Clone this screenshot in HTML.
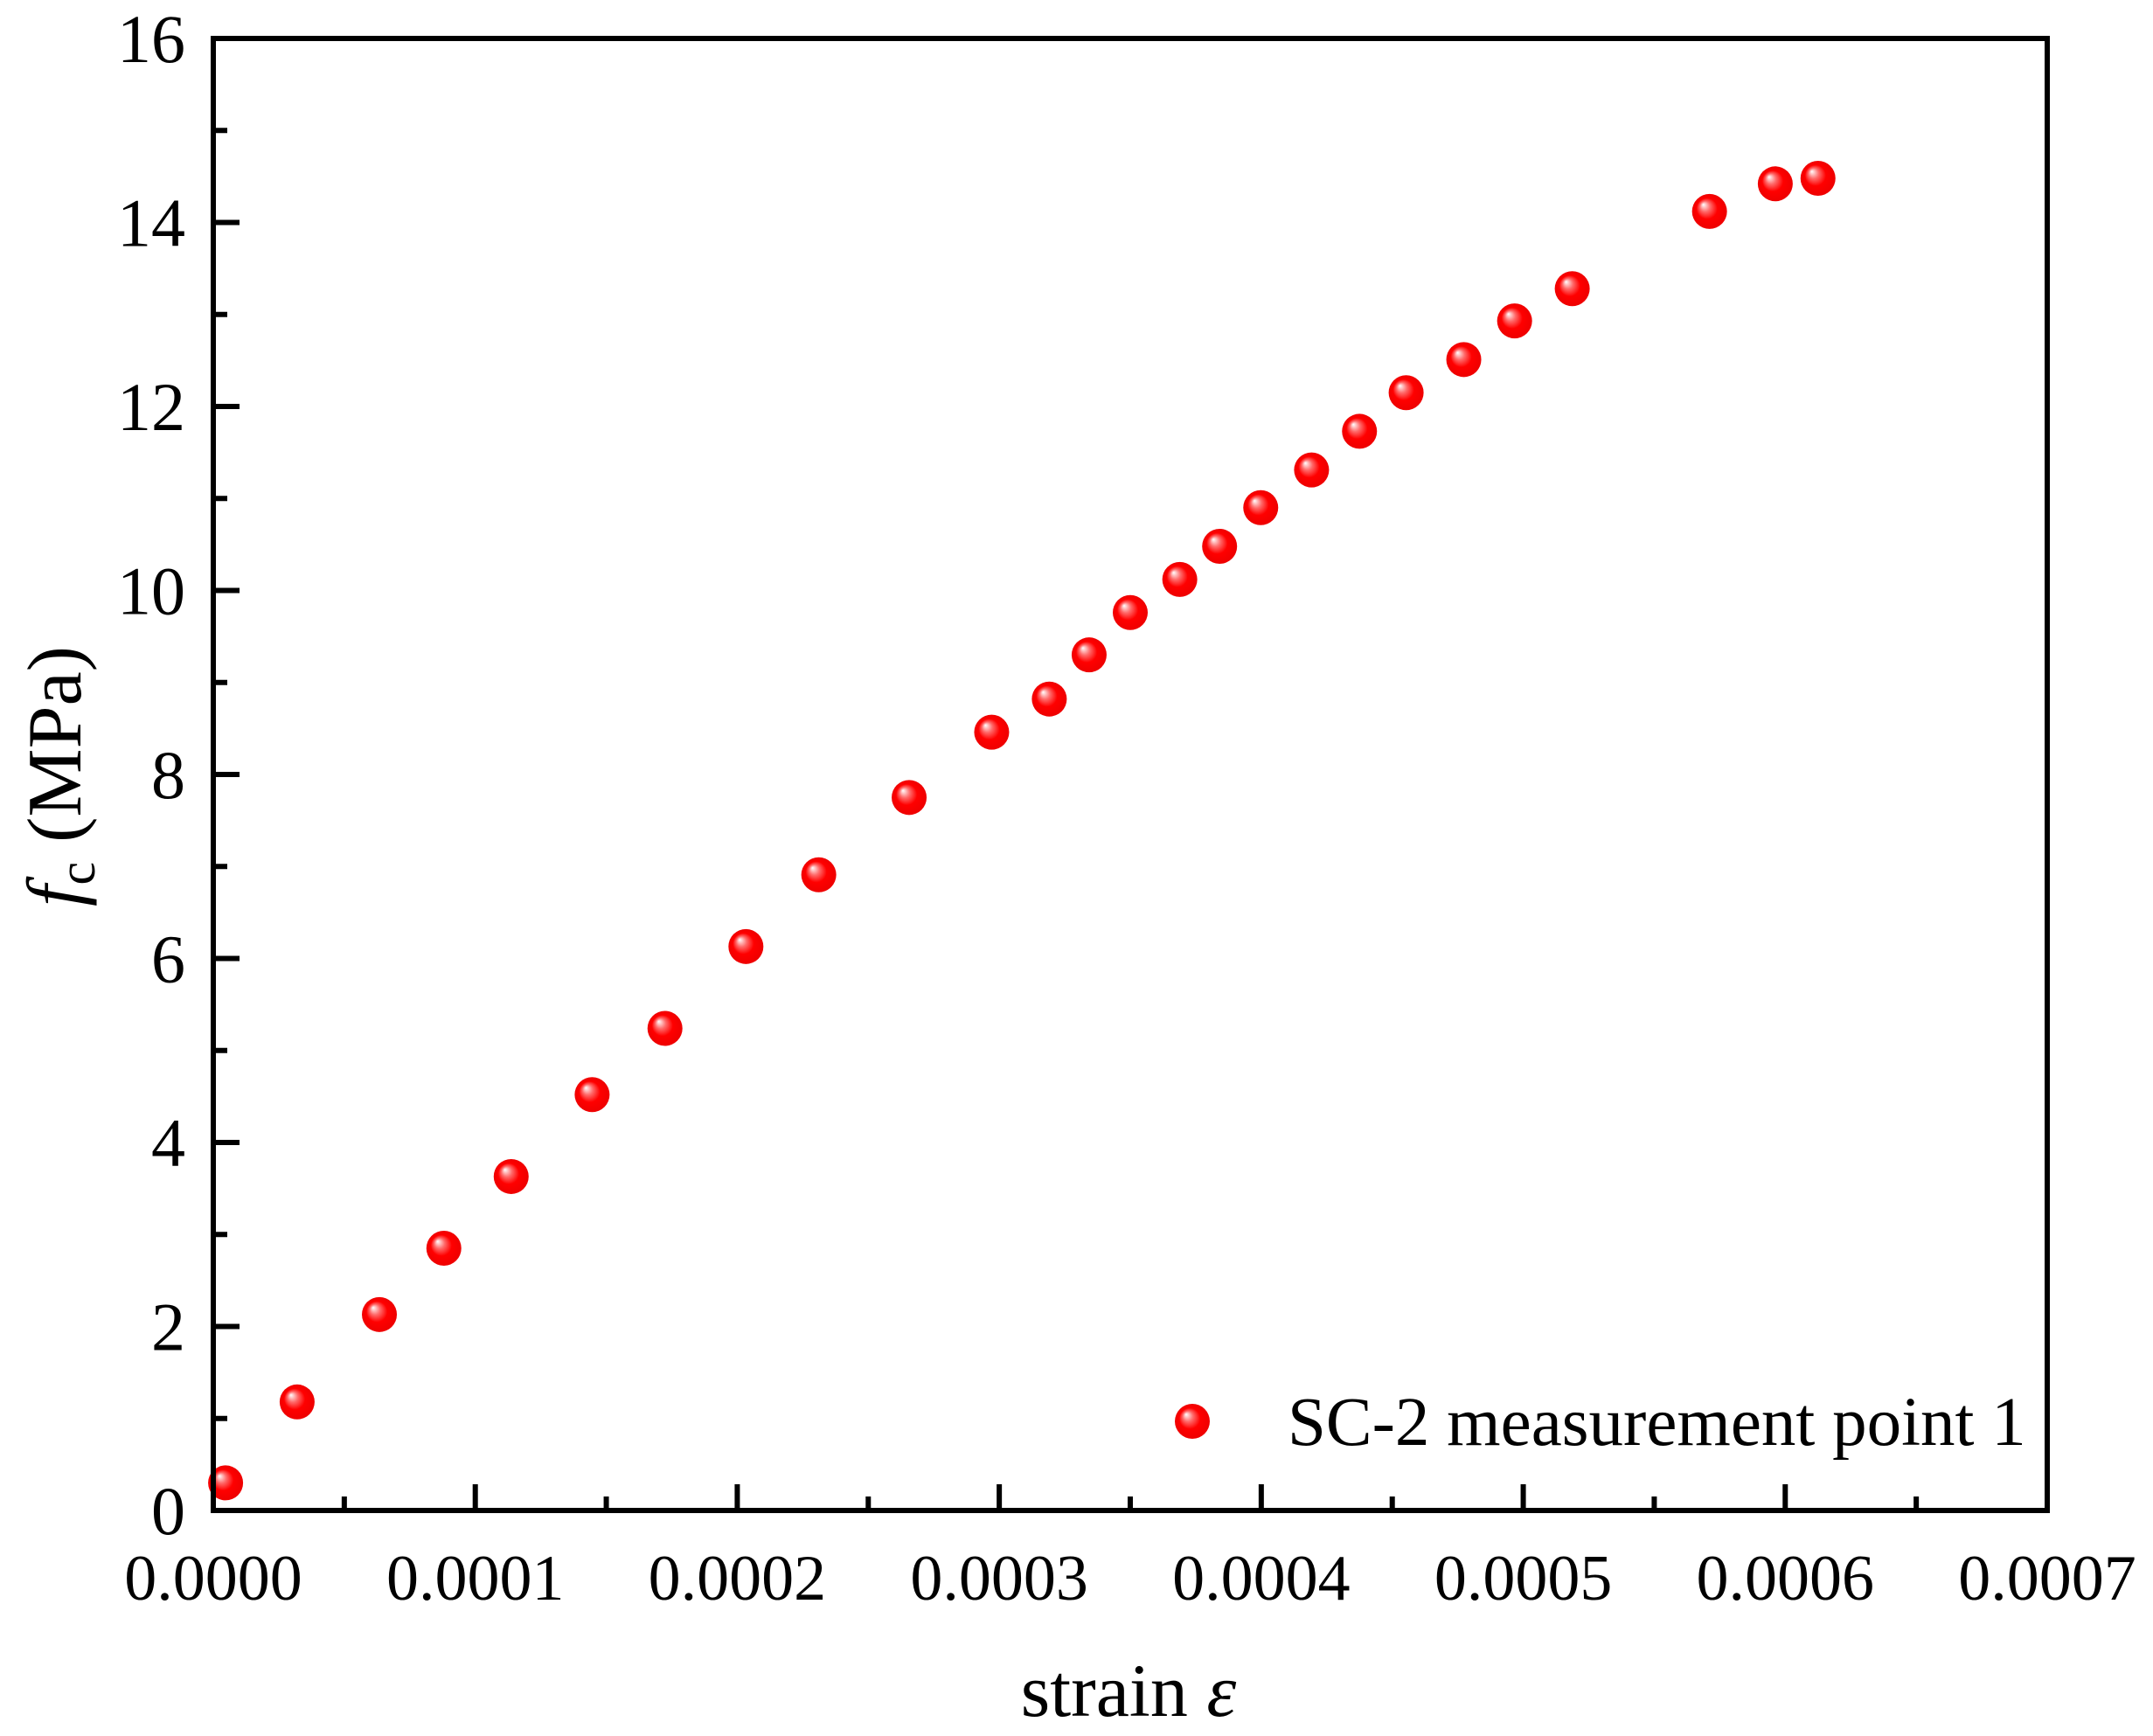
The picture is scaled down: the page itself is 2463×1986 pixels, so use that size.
<!DOCTYPE html>
<html><head><meta charset="utf-8"><style>
html,body{margin:0;padding:0;background:#fff;}
svg{display:block;font-family:"Liberation Serif",serif;}
</style></head><body>
<svg id="chart" width="2463" height="1986" viewBox="0 0 2463 1986" xmlns="http://www.w3.org/2000/svg">
<defs>
<radialGradient id="ball" cx="0.5" cy="0.5" r="0.5" fx="0.32" fy="0.3">
<stop offset="0" stop-color="#ffffff"/>
<stop offset="0.3" stop-color="#ff6a6a"/>
<stop offset="0.6" stop-color="#ff0000"/>
<stop offset="1" stop-color="#ee0000"/>
</radialGradient>
</defs>
<g id="marks"></g>
<g id="axes"></g>
<text x="1291" y="1963" font-size="86" text-anchor="middle">strain <tspan font-style="italic">ε</tspan></text>
<text transform="translate(92,888) rotate(-90)" font-size="88" text-anchor="middle"><tspan font-style="italic">f</tspan><tspan font-size="60" dy="16">c</tspan><tspan dy="-16"> (MPa)</tspan></text>
<g>
<circle cx="1364" cy="1626" r="20" fill="url(#ball)"/>
<text x="1473" y="1653" font-size="79">SC-2 measurement point 1</text>
</g>
</svg>
<script>
const strainValues=[0.0000047,0.000032,0.0000634,0.000088,0.0001137,0.0001446,0.0001724,0.0002033,0.0002311,0.0002656,0.0002971,0.0003191,0.0003343,0.00035,0.0003689,0.0003841,0.0003998,0.0004192,0.0004375,0.0004553,0.0004773,0.0004967,0.0005187,0.0005711,0.0005962,0.0006125];
const stressValues=[0.30,1.18,2.13,2.85,3.63,4.52,5.24,6.13,6.91,7.75,8.46,8.82,9.30,9.76,10.12,10.48,10.90,11.31,11.73,12.15,12.51,12.93,13.28,14.12,14.42,14.48];
const xTickLabels=["0.0000","0.0001","0.0002","0.0003","0.0004","0.0005","0.0006","0.0007"];
const yTickLabels=["0","2","4","6","8","10","12","14","16"];
const NS="http://www.w3.org/2000/svg";
const L=244,R=2342,T=44,B=1728;
function xs(v){return L+(v/0.0007)*(R-L);}
function ys(v){return B-(v/16)*(B-T);}
const axes=document.getElementById('axes');
const marks=document.getElementById('marks');
function mk(tag,attrs,parent){const e=document.createElementNS(NS,tag);for(const k in attrs)e.setAttribute(k,attrs[k]);parent.appendChild(e);return e;}
for(let i=0;i<strainValues.length;i++){
  const c=mk('circle',{cx:xs(strainValues[i]),cy:ys(stressValues[i]),r:20,fill:'url(#ball)'},marks);
  
  
}
const frame=mk('rect',{x:L,y:T,width:R-L,height:B-T,fill:'none',stroke:'#000','stroke-width':6},axes);


for(let i=0;i<xTickLabels.length;i++){
  const v=i*0.0001,x=xs(v);
  const t=mk('line',{x1:x,x2:x,y1:B,y2:B-30,stroke:'#000','stroke-width':6},axes);
  
  
  if(i<xTickLabels.length-1){const xm=xs(v+0.00005);
    const m=mk('line',{x1:xm,x2:xm,y1:B,y2:B-16,stroke:'#000','stroke-width':6},axes);
    
    }
  const lb=mk('text',{x:x,y:1830,'font-size':74,'text-anchor':'middle'},axes);
  lb.textContent=xTickLabels[i];
  
  
}
for(let i=0;i<yTickLabels.length;i++){
  const v=i*2,y=ys(v);
  const t=mk('line',{x1:L,x2:L+30,y1:y,y2:y,stroke:'#000','stroke-width':6},axes);
  
  
  if(i<yTickLabels.length-1){const ym=ys(v+1);
    const m=mk('line',{x1:L,x2:L+16,y1:ym,y2:ym,stroke:'#000','stroke-width':6},axes);
    
    }
  const lb=mk('text',{x:212,y:y+27,'font-size':78,'text-anchor':'end'},axes);
  lb.textContent=yTickLabels[i];
  
  
}
</script>
</body></html>
